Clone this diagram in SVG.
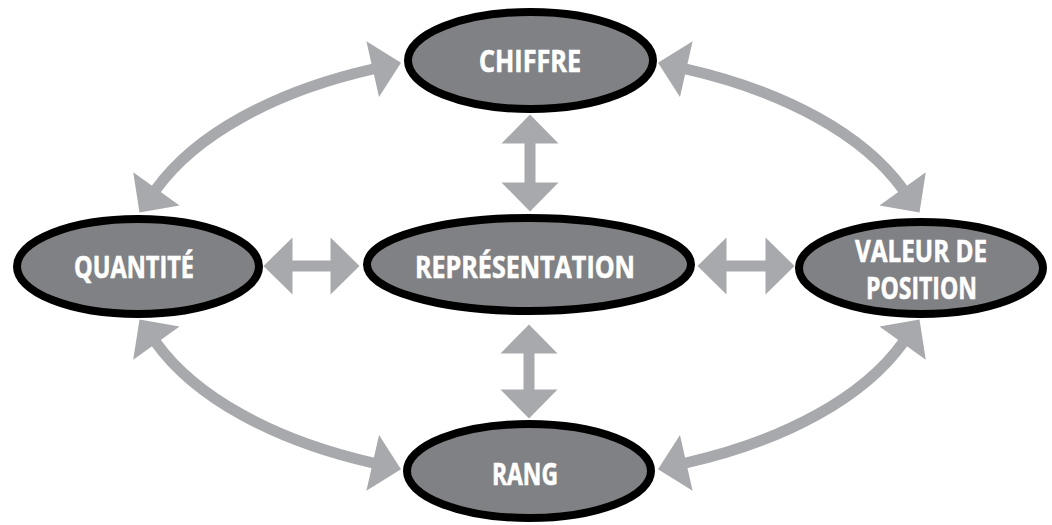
<svg xmlns="http://www.w3.org/2000/svg" width="1052" height="525" viewBox="0 0 1052 525">
  <defs>
    <marker id="head" viewBox="0 0 29 57" markerUnits="userSpaceOnUse" markerWidth="29" markerHeight="57" refX="0.5" refY="28.5" orient="auto-start-reverse" overflow="visible">
      <path d="M0,0 L29,28.5 L0,57 Z" fill="#a7a9ac"/>
    </marker>
    <style>
      .node { fill: #808184; stroke: #000; stroke-width: 8; }
      .label { font-family: "Open Sans", "Liberation Sans", sans-serif; font-weight: 700; font-size: 29.5px; fill: #fff; stroke: #fff; stroke-width: 0.6; }
      .link { fill: none; stroke: #a7a9ac; stroke-width: 11; marker-start: url(#head); marker-end: url(#head); }
    </style>
  </defs>
  <rect width="1052" height="525" fill="#fff"/>

  <g id="connectors">
    <!-- outer ring arcs -->
    <path class="link" d="M156.1,189.3 A400,214 0 0 1 373.2,69"/>
    <path class="link" d="M685.8,69 A400,214 0 0 1 902.9,189.3"/>
    <path class="link" d="M902.9,342.7 A400,214 0 0 1 685.8,463"/>
    <path class="link" d="M373.2,463 A400,214 0 0 1 156.1,342.7"/>
    <!-- straight links to the centre -->
    <path class="link" d="M530,143 L530,183"/>
    <path class="link" d="M529,353 L529,390"/>
    <path class="link" d="M292,266 L331,266"/>
    <path class="link" d="M726,266 L766,266"/>
  </g>

  <g id="chiffre">
    <ellipse class="node" cx="530.5" cy="60.5" rx="122.5" ry="48.5"/>
    <text class="label" x="479" y="72" textLength="102" lengthAdjust="spacingAndGlyphs">CHIFFRE</text>
  </g>
  <g id="quantite">
    <ellipse class="node" cx="138" cy="266.5" rx="121" ry="47.5"/>
    <text class="label" x="74" y="278" textLength="120" lengthAdjust="spacingAndGlyphs">QUANTITÉ</text>
  </g>
  <g id="representation">
    <ellipse class="node" cx="529" cy="264.5" rx="162" ry="46.5"/>
    <text class="label" x="415" y="278" textLength="220" lengthAdjust="spacingAndGlyphs">REPRÉSENTATION</text>
  </g>
  <g id="valeur-de-position">
    <ellipse class="node" cx="921" cy="268" rx="122" ry="46"/>
    <text class="label" x="855" y="262" textLength="132" lengthAdjust="spacingAndGlyphs">VALEUR DE</text>
    <text class="label" x="866" y="299" textLength="111" lengthAdjust="spacingAndGlyphs">POSITION</text>
  </g>
  <g id="rang">
    <ellipse class="node" cx="529" cy="471" rx="122" ry="47"/>
    <text class="label" x="492" y="485" textLength="66" lengthAdjust="spacingAndGlyphs">RANG</text>
  </g>
</svg>
